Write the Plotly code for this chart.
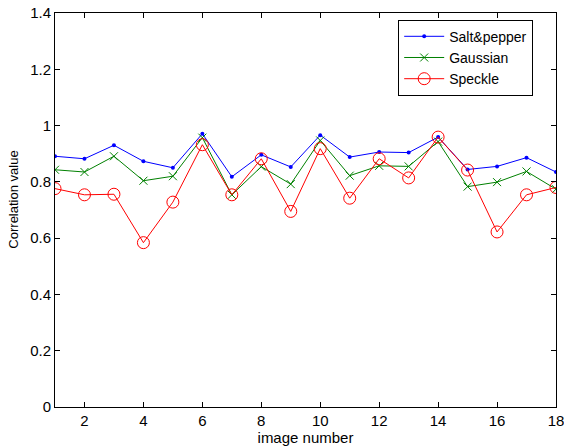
import plotly.graph_objects as go

image_number = list(range(1, 19))
salt_pepper = [0.891, 0.882, 0.930, 0.873, 0.850, 0.971, 0.818, 0.896, 0.853,
               0.966, 0.888, 0.906, 0.904, 0.959, 0.844, 0.855, 0.886, 0.835]
gaussian = [0.843, 0.835, 0.891, 0.804, 0.820, 0.957, 0.754, 0.854, 0.792,
            0.947, 0.822, 0.857, 0.855, 0.943, 0.783, 0.799, 0.837, 0.774]
speckle = [0.776, 0.754, 0.756, 0.584, 0.728, 0.932, 0.754, 0.882, 0.695,
           0.918, 0.742, 0.882, 0.814, 0.959, 0.842, 0.622, 0.754, 0.780]

x_ticks = [2, 4, 6, 8, 10, 12, 14, 16, 18]
y_ticks = [0, 0.2, 0.4, 0.6, 0.8, 1.0, 1.2, 1.4]
y_tick_labels = ["0", "0.2", "0.4", "0.6", "0.8", "1", "1.2", "1.4"]

FONT = "Liberation Sans, Arial, Helvetica, sans-serif"

fig = go.Figure()
fig.add_trace(go.Scatter(x=image_number, y=salt_pepper, name="Salt&pepper",
                         mode="lines+markers",
                         line=dict(color="#0000ff", width=1),
                         marker=dict(symbol="circle", size=4, color="#0000ff")))
fig.add_trace(go.Scatter(x=image_number, y=gaussian, name="Gaussian",
                         mode="lines+markers",
                         line=dict(color="#008000", width=1),
                         marker=dict(symbol="x-thin-open", size=8,
                                     line=dict(color="#008000", width=1))))
fig.add_trace(go.Scatter(x=image_number, y=speckle, name="Speckle",
                         mode="lines+markers",
                         line=dict(color="#ff0000", width=1),
                         marker=dict(symbol="circle-open", size=12,
                                     line=dict(color="#ff0000", width=1))))

axis_common = dict(showline=True, linecolor="black", linewidth=1, mirror="allticks",
                   ticks="inside", ticklen=5, tickcolor="black", showgrid=False,
                   zeroline=False, automargin=False, ticklabeloverflow="allow",
                   tickfont=dict(family=FONT, size=15, color="black"))

fig.update_layout(
    width=564, height=448,
    margin=dict(l=55, r=8, t=13, b=41),
    paper_bgcolor="white", plot_bgcolor="white",
    font=dict(family=FONT, color="black"),
    showlegend=True,
    legend=dict(x=0.685, y=0.983, xanchor="left", yanchor="top",
                bordercolor="black", borderwidth=1, bgcolor="white",
                font=dict(family=FONT, size=14, color="black"),
                tracegroupgap=0, itemwidth=40),
    xaxis=dict(range=[1, 18], tickvals=x_ticks,
               title=dict(text="image number", font=dict(family=FONT, size=15), standoff=0),
               **axis_common),
    yaxis=dict(range=[0, 1.4], tickvals=y_ticks, ticktext=y_tick_labels,
               **axis_common),
    annotations=[dict(text="Correlation value", xref="paper", yref="paper",
                      x=0, y=0.525, xanchor="center", yanchor="middle",
                      xshift=-41.5, textangle=-90, showarrow=False,
                      font=dict(family=FONT, size=13, color="black"))],
)

# remove the default 8px page margin so the figure sits at the window's corner
fig.write_html("out.html",
               config={"displayModeBar": False},
               post_script="document.body.style.margin='0';document.body.style.overflow='hidden';")
